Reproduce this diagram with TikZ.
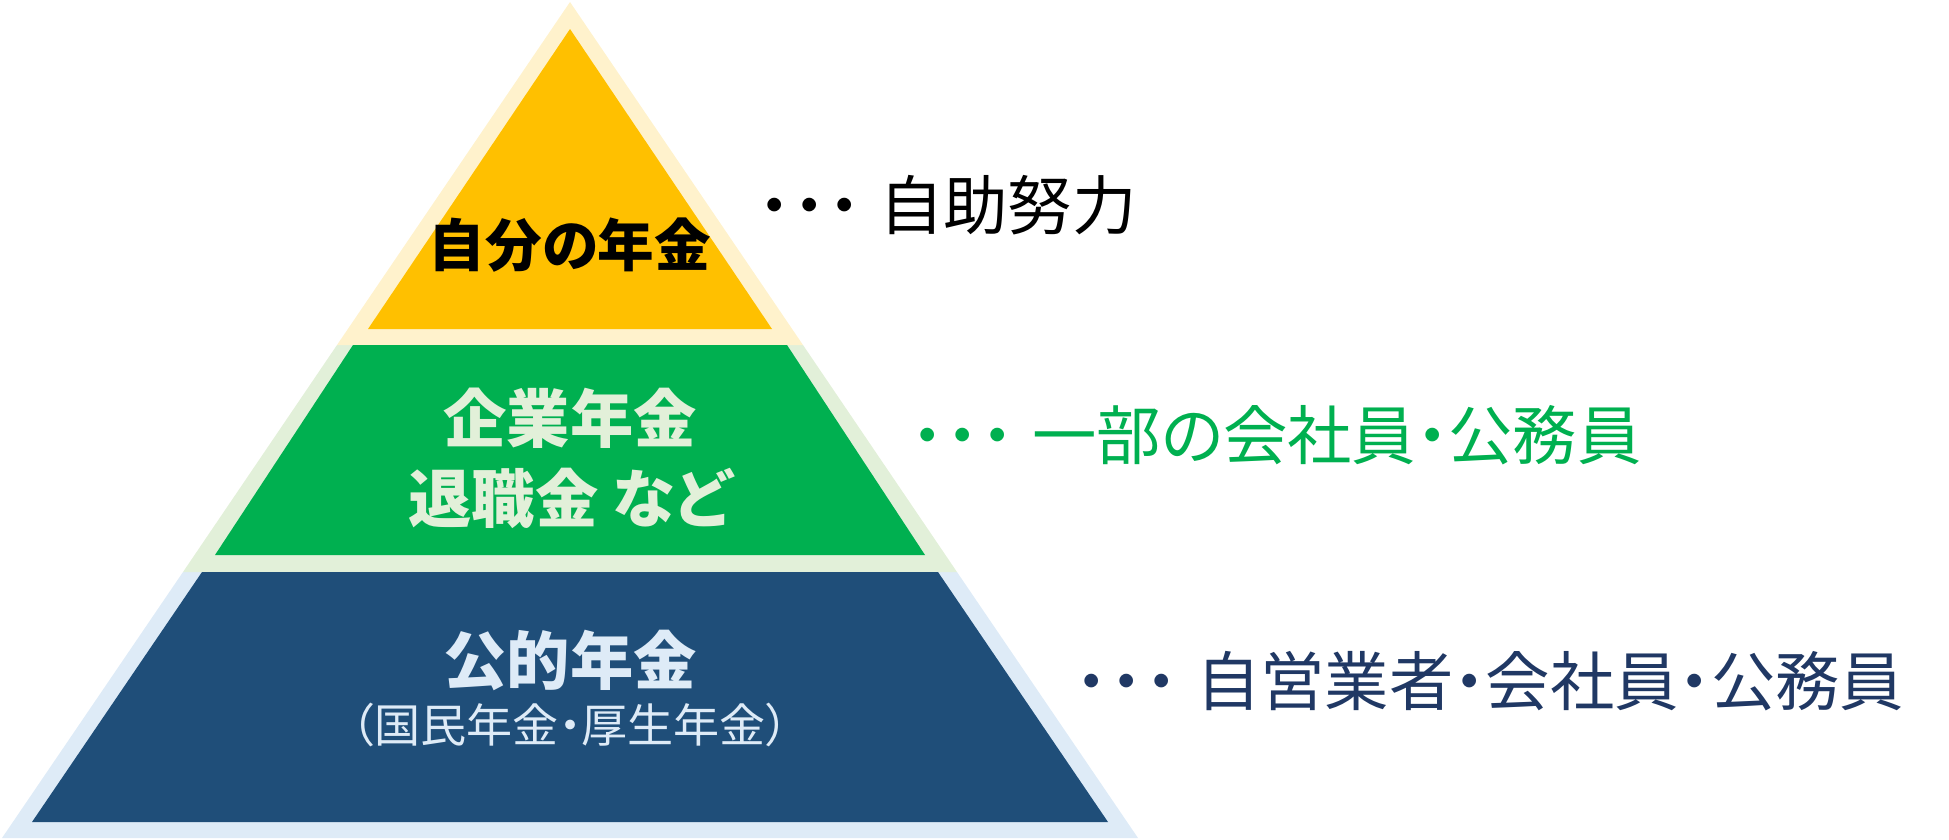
\documentclass[tikz,border=0pt]{standalone}
\usepackage{fontspec}
\setmainfont{Noto Sans CJK JP}[RawFeature=+palt]
\usetikzlibrary{positioning}
\definecolor{kinYellow}{HTML}{FFC000}
\definecolor{kinYellowLt}{HTML}{FFF2CC}
\definecolor{kinGreen}{HTML}{00B050}
\definecolor{kinGreenLt}{HTML}{E2F0D9}
\definecolor{kinNavy}{HTML}{1F4E79}
\definecolor{kinNavyLt}{HTML}{DEEBF7}
\definecolor{kinNavyTx}{HTML}{203864}
\newcommand\kinDots{\makebox[0.54em]{・}\makebox[0.54em]{・}\makebox[0.54em]{・}\hspace{0.27em}}
\tikzstyle{layer}=[align=center, inner sep=0pt, font=\bfseries\fontsize{18pt}{22.8pt}\selectfont]
\tikzstyle{note}=[anchor=west, inner sep=0pt, font=\fontsize{18.3pt}{22pt}\selectfont]

\begin{document}
\begin{tikzpicture}[x=0.01cm,y=-0.01cm]
\useasboundingbox (0,0) rectangle (1949,839);
%\draw[help lines,step=100] (0,0) grid (1949,839);
% pale borders
\fill[kinNavyLt] (183,572) -- (957,572) -- (1138,838) -- (2,838) -- cycle;
\fill[kinGreenLt] (337,345) -- (803,345) -- (957,572) -- (183,572) -- cycle;
\fill[kinYellowLt] (570,2) -- (803,345) -- (337,345) -- cycle;
% layers
\fill[kinYellow] (570,29) -- (772,329) -- (368,329) -- cycle;
\fill[kinGreen] (353,345) -- (787,345) -- (925,555) -- (215,555) -- cycle;
\fill[kinNavy] (202,572) -- (938,572) -- (1108,822) -- (32,822) -- cycle;
% labels
\node[layer, font=\bfseries\fontsize{16.1pt}{18pt}\selectfont] (own) at (570,245) {自分の年金};
\node[layer, text=kinGreenLt] (corp) at (570,458) {企業年金\\退職金 など};
\node[layer, text=kinNavyLt] (pub) at (570,660) {公的年金};
\node[text=kinNavyLt, inner sep=0pt, font=\fontsize{13.1pt}{15pt}\selectfont] (pubsub) at (570,725) {（国民年金・厚生年金）};
% who pays
\node[note] (ownnote) at (757,205) {\kinDots 自助努力};
\node[note, text=kinGreen] (corpnote) at (910,435) {\kinDots 一部の会社員・公務員};
\node[note, text=kinNavyTx] (pubnote) at (1074,681) {\kinDots 自営業者・会社員・公務員};
\end{tikzpicture}
\end{document}
